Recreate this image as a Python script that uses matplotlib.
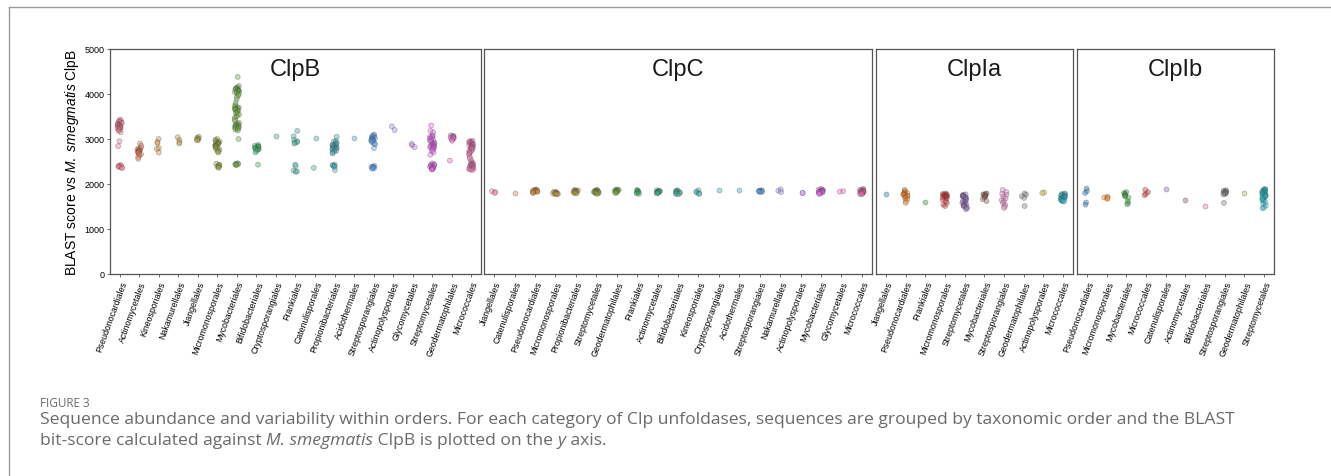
import matplotlib
matplotlib.use("Agg")
import matplotlib.pyplot as plt
from matplotlib.lines import Line2D
import numpy as np
import pandas as pd
import seaborn as sns

plt.rcParams['font.family'] = ['Liberation Sans', 'DejaVu Sans']
plt.rcParams['mathtext.fontset'] = 'custom'
plt.rcParams['mathtext.rm'] = 'Liberation Sans'
plt.rcParams['mathtext.it'] = 'Liberation Sans:italic'

# ---------------------------------------------------------------------------
# Data: BLAST bit-score vs M. smegmatis ClpB, grouped by taxonomic order
# ---------------------------------------------------------------------------
clpb_orders = ['Pseudonocardiales', 'Actinomycetales', 'Kineosporiales', 'Nakamurellales',
               'Jiangellales', 'Micromonosporales', 'Mycobacteriales', 'Bifidobacteriales',
               'Cryptosporangiales', 'Frankiales', 'Catenulisporales', 'Propionibacteriales',
               'Acidothermales', 'Streptosporangiales', 'Actinopolysporales', 'Glycomycetales',
               'Streptomycetales', 'Geodermatophilales', 'Micrococcales']
clpb_scores = [
    [3430, 3410, 3390, 3380, 3360, 3350, 3340, 3330, 3320, 3310, 3300, 3290, 3280, 3270, 3260,
     3250, 3240, 3230, 3220, 3200, 3180, 3150, 2950, 2840, 2420, 2410, 2400, 2390, 2380, 2370, 2350],
    [2900, 2850, 2810, 2790, 2770, 2760, 2750, 2740, 2730, 2720, 2710, 2700, 2690, 2680, 2660,
     2640, 2600, 2560],
    [3000, 2930, 2910, 2800, 2780, 2700],
    [3040, 2980, 2930, 2900],
    [3050, 3030, 3010, 3000, 2980, 2970],
    [3000, 2980, 2960, 2940, 2930, 2920, 2910, 2900, 2890, 2880, 2870, 2860, 2850, 2840, 2830,
     2820, 2800, 2780, 2760, 2740, 2720, 2700, 2450, 2430, 2420, 2400, 2390, 2380, 2360],
    [4380, 4180, 4150, 4130, 4120, 4110, 4100, 4090, 4080, 4070, 4060, 4050, 4040, 4020, 4000,
     3970, 3930, 3880, 3800, 3750, 3720, 3700, 3690, 3680, 3670, 3660, 3650, 3640, 3620, 3600,
     3580, 3560, 3540, 3500, 3480, 3440, 3400, 3360, 3340, 3320, 3310, 3300, 3290, 3280, 3270,
     3260, 3250, 3240, 3230, 3210, 3190, 3000, 2460, 2450, 2440, 2440, 2430, 2420],
    [2870, 2850, 2840, 2830, 2820, 2810, 2800, 2790, 2780, 2770, 2760, 2740, 2700, 2430],
    [3070],
    [3180, 3060, 2980, 2950, 2930, 2920, 2900, 2430, 2400, 2300, 2280, 2270],
    [3010, 2360],
    [3050, 2960, 2940, 2920, 2900, 2880, 2870, 2860, 2850, 2840, 2830, 2820, 2810, 2800, 2790,
     2780, 2770, 2760, 2740, 2720, 2700, 2680, 2430, 2420, 2410, 2400, 2380, 2310],
    [3030],
    [3100, 3080, 3060, 3050, 3040, 3020, 3010, 3000, 2990, 2980, 2970, 2960, 2950, 2930, 2900,
     2880, 2800, 2400, 2390, 2380, 2370, 2360, 2350, 2340],
    [3280, 3200],
    [2890, 2860, 2820],
    [3300, 3180, 3150, 3080, 3060, 3050, 3030, 3010, 3000, 2980, 2960, 2940, 2920, 2900, 2890,
     2880, 2870, 2860, 2850, 2840, 2830, 2820, 2810, 2800, 2780, 2760, 2740, 2700, 2650, 2460,
     2440, 2430, 2420, 2410, 2400, 2390, 2380, 2370, 2360, 2350, 2340, 2330, 2320],
    [3080, 3070, 3060, 3050, 3040, 3030, 3020, 3010, 2990, 2960, 2520],
    [2960, 2950, 2940, 2930, 2920, 2910, 2900, 2890, 2880, 2870, 2860, 2850, 2840, 2830, 2820,
     2810, 2800, 2790, 2780, 2760, 2740, 2720, 2700, 2680, 2650, 2600, 2560, 2520, 2480, 2460,
     2450, 2440, 2430, 2420, 2410, 2400, 2390, 2380, 2370, 2360, 2350, 2340, 2330, 2320, 2310],
]

clpc_orders = ['Jiangellales', 'Catenulisporales', 'Pseudonocardiales', 'Micromonosporales',
               'Propionibacteriales', 'Streptomycetales', 'Geodermatophilales', 'Frankiales',
               'Actinomycetales', 'Bifidobacteriales', 'Kineosporiales', 'Cryptosporangiales',
               'Acidothermales', 'Streptosporangiales', 'Nakamurellales', 'Actinopolysporales',
               'Mycobacteriales', 'Glycomycetales', 'Micrococcales']
clpc_scores = [
    [1840, 1820, 1800],
    [1810],
    [1880, 1870, 1860, 1860, 1850, 1850, 1840, 1840, 1830, 1830, 1820, 1810, 1800],
    [1830, 1820, 1810, 1800, 1800, 1790, 1790, 1780, 1780, 1770],
    [1870, 1860, 1850, 1850, 1840, 1840, 1830, 1830, 1820, 1810, 1800, 1790],
    [1870, 1860, 1850, 1850, 1840, 1840, 1830, 1830, 1820, 1820, 1810, 1810, 1800, 1790, 1780],
    [1880, 1870, 1860, 1860, 1850, 1850, 1840, 1820, 1810, 1800],
    [1870, 1850, 1840, 1830, 1820, 1810, 1790, 1780],
    [1860, 1850, 1840, 1840, 1830, 1820, 1820, 1810, 1800, 1790],
    [1860, 1850, 1840, 1830, 1820, 1810, 1800, 1790, 1780, 1770],
    [1860, 1830, 1810, 1790, 1780],
    [1870],
    [1860],
    [1860, 1850, 1850, 1840, 1840, 1830, 1830, 1820],
    [1880, 1850, 1820],
    [1800, 1800],
    [1890, 1880, 1870, 1860, 1850, 1850, 1840, 1840, 1830, 1830, 1820, 1820, 1810, 1800, 1790, 1780],
    [1840, 1830],
    [1890, 1880, 1870, 1860, 1850, 1850, 1840, 1840, 1830, 1830, 1820, 1820, 1810, 1810, 1800,
     1790, 1780, 1770],
]

clpia_orders = ['Jiangellales', 'Pseudonocardiales', 'Frankiales', 'Micromonosporales',
                'Streptomycetales', 'Mycobacteriales', 'Streptosporangiales',
                'Geodermatophilales', 'Actinopolysporales', 'Micrococcales']
clpia_scores = [
    [1780],
    [1870, 1840, 1820, 1800, 1790, 1780, 1770, 1760, 1750, 1740, 1730, 1710, 1690, 1660, 1620, 1580],
    [1610],
    [1790, 1780, 1770, 1760, 1750, 1750, 1740, 1740, 1730, 1720, 1710, 1700, 1680, 1650, 1620,
     1580, 1540, 1510],
    [1770, 1760, 1750, 1740, 1730, 1720, 1710, 1700, 1690, 1680, 1660, 1640, 1620, 1600, 1580,
     1560, 1550, 1540, 1530, 1520, 1500, 1480, 1460, 1440],
    [1790, 1780, 1770, 1760, 1750, 1740, 1720, 1700, 1660, 1620],
    [1870, 1820, 1780, 1760, 1720, 1680, 1640, 1620, 1580, 1540, 1500, 1470],
    [1790, 1760, 1730, 1690, 1510],
    [1810, 1800],
    [1790, 1780, 1770, 1760, 1750, 1740, 1740, 1730, 1720, 1710, 1700, 1700, 1690, 1680, 1670,
     1660, 1650, 1640, 1630, 1620, 1610],
]

clpib_orders = ['Pseudonocardiales', 'Micromonosporales', 'Mycobacteriales', 'Micrococcales',
                'Catenulisporales', 'Actinomycetales', 'Bifidobacteriales',
                'Streptosporangiales', 'Geodermatophilales', 'Streptomycetales']
clpib_scores = [
    [1900, 1840, 1800, 1590, 1540],
    [1720, 1700, 1690, 1670],
    [1820, 1800, 1780, 1760, 1740, 1720, 1700, 1620, 1580, 1550],
    [1870, 1820, 1780, 1750],
    [1880],
    [1640],
    [1510],
    [1860, 1850, 1840, 1830, 1820, 1810, 1800, 1790, 1780, 1770, 1580],
    [1800],
    [1890, 1880, 1870, 1860, 1850, 1840, 1830, 1820, 1810, 1800, 1790, 1780, 1770, 1760, 1750,
     1740, 1730, 1720, 1700, 1680, 1660, 1640, 1620, 1600, 1560, 1520, 1480, 1460],
]

panel_titles = ['ClpB', 'ClpC', 'ClpIa', 'ClpIb']
y_ticks = [0, 1000, 2000, 3000, 4000, 5000]

# ---------------------------------------------------------------------------
W, H = 1331, 477
fig = plt.figure(figsize=(W / 100, H / 100), dpi=100)

# panel boxes in pixels: (left, right)
boxes = [(110, 481), (484, 872), (876, 1073), (1077, 1274)]
top_px, bottom_px = 50, 275

panels = [
    (clpb_orders, clpb_scores, sns.husl_palette(len(clpb_orders))),
    (clpc_orders, clpc_scores, sns.husl_palette(len(clpc_orders))),
    (clpia_orders, clpia_scores, sns.color_palette('tab10', len(clpia_orders))),
    (clpib_orders, clpib_scores, sns.color_palette('tab10', len(clpib_orders))),
]

np.random.seed(3)
frame_col = '#555555'

for i, ((orders, scores, pal), (l, r)) in enumerate(zip(panels, boxes)):
    ax = fig.add_axes([l / W, 1 - bottom_px / H, (r - l) / W, (bottom_px - top_px) / H])
    df = pd.DataFrame({
        'order': [o for o, s in zip(orders, scores) for _ in s],
        'score': [v for s in scores for v in s],
    })
    sns.stripplot(data=df, x='order', y='score', hue='order', order=orders,
                  hue_order=orders, palette=list(pal), legend=False, ax=ax,
                  jitter=0.12, size=3.6, alpha=0.4, edgecolor='#444444', linewidth=0.5)
    ax.set_ylim(0, 5000)
    ax.set_xlim(-0.5, len(orders) - 0.5)
    ax.set_xlabel('')
    ax.set_ylabel('')
    ax.set_xticks(range(len(orders)))
    ax.set_xticklabels(orders, rotation=70, ha='right', rotation_mode='anchor', fontsize=6.3)
    ax.tick_params(axis='x', length=2, width=0.6, color=frame_col, pad=2)
    for sp in ax.spines.values():
        sp.set_color(frame_col)
        sp.set_linewidth(0.9)
    if i == 0:
        ax.set_yticks(y_ticks)
        ax.tick_params(axis='y', labelsize=6.5, length=2, width=0.6, color=frame_col, pad=2)
    else:
        ax.set_yticks([])
    ax.text(0.5, 0.91, panel_titles[i], transform=ax.transAxes, ha='center', va='center',
            fontsize=17, color='#1a1a1a')

fig.text(72 / W, 1 - 162.5 / H, r'BLAST score vs $\mathit{M.\ smegmatis}$ ClpB',
         rotation=90, ha='center', va='center', fontsize=10)

# page frame lines
fig.add_artist(Line2D([9 / W, 9 / W], [0, 1 - 8 / H], color='#9a9a9a', lw=1))
fig.add_artist(Line2D([9 / W, 1], [1 - 8 / H, 1 - 8 / H], color='#9a9a9a', lw=1))

# caption
cap_font = 'Open Sans'
cap_col = '#6a6a6a'
cap_size = 12.6
fig.text(40 / W, 1 - 404 / H, 'FIGURE 3', fontsize=8.5, color=cap_col, family=cap_font,
         ha='left', va='center')
fig.text(40 / W, 1 - 420 / H,
         'Sequence abundance and variability within orders. For each category of Clp unfoldases, '
         'sequences are grouped by taxonomic order and the BLAST',
         fontsize=cap_size, color=cap_col, family=cap_font, ha='left', va='center')

renderer = fig.canvas.get_renderer()
x = 40 / W
for seg, style in [('bit-score calculated against ', 'normal'), ('M. smegmatis', 'italic'),
                   (' ClpB is plotted on the ', 'normal'), ('y', 'italic'), (' axis.', 'normal')]:
    t = fig.text(x, 1 - 441 / H, seg, fontsize=cap_size, color=cap_col, family=cap_font,
                 style=style, ha='left', va='center')
    bb = t.get_window_extent(renderer)
    x = bb.x1 / W

fig.savefig('out.png', dpi=100)
